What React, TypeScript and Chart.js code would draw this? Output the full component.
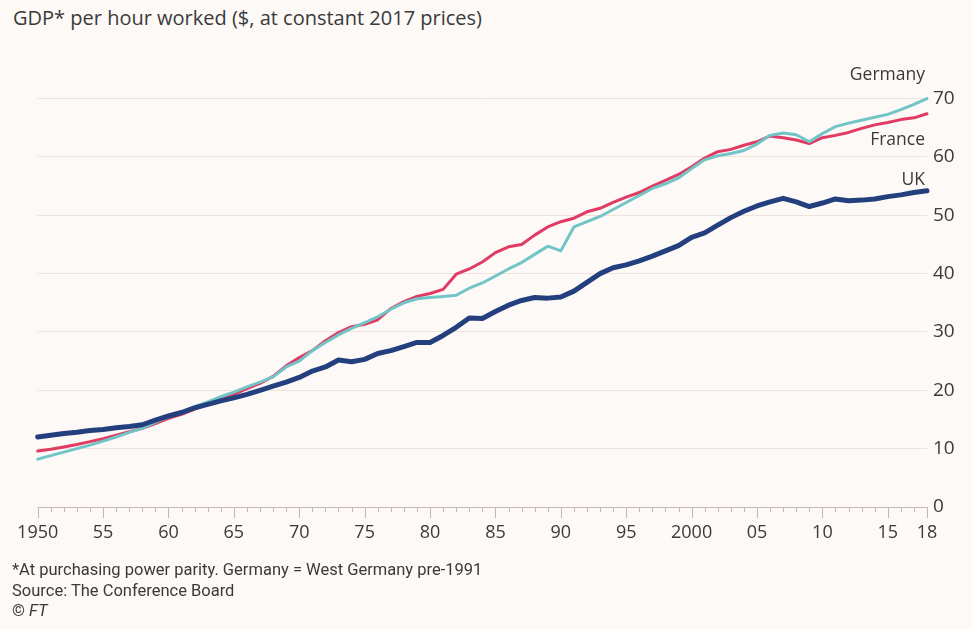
import React, { useEffect, useRef } from "react";
import { Chart, registerables } from "chart.js";

Chart.register(...registerables);

const firstYear = 1950;
const lastYear = 2018;

const ukValues = [
  12.0, 12.3, 12.6, 12.8, 13.1, 13.3, 13.6, 13.8, 14.1, 14.9,
  15.6, 16.2, 17.0, 17.6, 18.2, 18.7, 19.3, 20.0, 20.7, 21.4,
  22.2, 23.3, 24.0, 25.2, 24.9, 25.3, 26.3, 26.8, 27.5, 28.2,
  28.2, 29.4, 30.8, 32.4, 32.3, 33.5, 34.6, 35.4, 35.9, 35.8,
  36.0, 37.0, 38.5, 40.0, 41.0, 41.5, 42.2, 43.0, 43.9, 44.8,
  46.2, 47.0, 48.3, 49.6, 50.7, 51.6, 52.3, 52.9, 52.3, 51.5,
  52.1, 52.8, 52.5, 52.6, 52.8, 53.2, 53.5, 53.9, 54.2,
];

const franceValues = [
  9.6, 9.9, 10.3, 10.7, 11.2, 11.7, 12.3, 12.9, 13.5, 14.3,
  15.2, 15.9, 16.8, 17.6, 18.5, 19.3, 20.3, 21.2, 22.4, 24.2,
  25.6, 26.8, 28.5, 29.9, 30.9, 31.3, 32.1, 34.0, 35.2, 36.1,
  36.6, 37.3, 39.9, 40.8, 42.0, 43.6, 44.6, 45.0, 46.6, 48.0,
  48.9, 49.5, 50.6, 51.2, 52.2, 53.1, 53.9, 55.0, 56.0, 57.0,
  58.3, 59.8, 60.9, 61.3, 62.0, 62.6, 63.6, 63.3, 62.9, 62.3,
  63.3, 63.7, 64.2, 64.9, 65.5, 65.9, 66.4, 66.7, 67.4,
];

const germanyValues = [
  8.2, 8.8, 9.4, 10.0, 10.6, 11.3, 12.0, 12.8, 13.5, 14.5,
  15.5, 16.3, 17.2, 18.0, 18.9, 19.7, 20.6, 21.4, 22.3, 24.0,
  25.0, 26.8, 28.2, 29.5, 30.6, 31.6, 32.6, 33.9, 35.0, 35.7,
  35.9, 36.1, 36.3, 37.5, 38.4, 39.6, 40.8, 41.9, 43.3, 44.7,
  43.9, 48.0, 48.9, 49.8, 51.0, 52.2, 53.4, 54.6, 55.4, 56.4,
  58.0, 59.5, 60.2, 60.6, 61.1, 62.2, 63.7, 64.1, 63.8, 62.6,
  64.0, 65.2, 65.8, 66.3, 66.8, 67.3, 68.1, 69.0, 70.0,
];

const xTickYears = [1950, 1955, 1960, 1965, 1970, 1975, 1980, 1985, 1990, 1995, 2000, 2005, 2010, 2015, 2018];
const xTickLabels = ["1950", "55", "60", "65", "70", "75", "80", "85", "90", "95", "2000", "05", "10", "15", "18"];
const yTicks = [0, 10, 20, 30, 40, 50, 60, 70];

const seriesNames = ["UK", "Germany", "France"];
const seriesColors = ["#233f7e", "#72c5c6", "#e13a63"];
const seriesWidths = [5, 3, 3];
const labelOffsets = [-11, -24, 26];

const toPoints = (vals: number[]) => vals.map((v, i) => ({ x: firstYear + i, y: v }));

const TEXT = "#3a3a3a";
const BG = "#fcf9f7";

const axisPlugin = {
  id: "ftAxis",
  afterDatasetsDraw(chart: any) {
    const { ctx, scales } = chart;
    const xs = scales.x;
    const ys = scales.y;
    const y0 = ys.getPixelForValue(0);
    ctx.save();
    ctx.strokeStyle = "#c4b8b0";
    ctx.lineWidth = 1;
    ctx.beginPath();
    ctx.moveTo(xs.getPixelForValue(firstYear), y0 + 0.5);
    ctx.lineTo(xs.getPixelForValue(lastYear), y0 + 0.5);
    for (let yr = firstYear; yr <= lastYear; yr++) {
      const px = Math.round(xs.getPixelForValue(yr)) + 0.5;
      const major = xTickYears.includes(yr);
      ctx.moveTo(px, y0);
      ctx.lineTo(px, y0 + (major ? 11 : 5));
    }
    ctx.stroke();

    ctx.fillStyle = TEXT;
    ctx.font = "17.5px 'Open Sans'";
    ctx.textAlign = "right";
    ctx.textBaseline = "middle";
    const lastVals = [ukValues, germanyValues, franceValues].map((a) => a[a.length - 1]);
    seriesNames.forEach((name, i) => {
      const px = xs.getPixelForValue(lastYear) - 2;
      const py = ys.getPixelForValue(lastVals[i]) + labelOffsets[i];
      ctx.fillText(name, px, py);
    });
    ctx.restore();
  },
};

export default function App() {
  const canvasRef = useRef<HTMLCanvasElement | null>(null);

  useEffect(() => {
    if (!canvasRef.current) return;
    const allVals = [ukValues, germanyValues, franceValues];
    const chart = new Chart(canvasRef.current, {
      type: "line",
      data: {
        datasets: seriesNames.map((name, i) => ({
          label: name,
          data: toPoints(allVals[i]),
          borderColor: seriesColors[i],
          borderWidth: seriesWidths[i],
          pointRadius: 0,
          tension: 0,
          fill: false,
          clip: false as any,
          borderCapStyle: "round" as const,
          borderJoinStyle: "round" as const,
        })),
      },
      options: {
        animation: false,
        responsive: false,
        devicePixelRatio: 1,
        layout: { padding: { left: 37.7, right: 0, top: 98.6, bottom: 0 } },
        plugins: { legend: { display: false }, tooltip: { enabled: false }, title: { display: false } },
        scales: {
          x: {
            type: "linear",
            min: firstYear,
            max: lastYear,
            grid: { display: false, drawTicks: false, tickLength: 0 },
            border: { display: false },
            afterBuildTicks: (scale: any) => {
              scale.ticks = xTickYears.map((v) => ({ value: v }));
            },
            afterFit: (scale: any) => {
              scale.height = 629 - 507;
            },
            ticks: {
              autoSkip: false,
              maxRotation: 0,
              padding: 15,
              color: TEXT,
              font: { family: "'Open Sans'", size: 18 },
              callback: (v: any) => {
                const idx = xTickYears.indexOf(Number(v));
                return idx >= 0 ? xTickLabels[idx] : "";
              },
            },
          },
          y: {
            position: "right",
            min: 0,
            max: 70,
            afterBuildTicks: (scale: any) => {
              scale.ticks = yTicks.map((v) => ({ value: v }));
            },
            afterFit: (scale: any) => {
              scale.width = 45;
            },
            grid: { color: "#eee2da", lineWidth: 1, drawTicks: false, tickLength: 0 },
            border: { display: false },
            ticks: {
              padding: 6,
              color: TEXT,
              font: { family: "'Open Sans'", size: 19 },
              callback: (v: any) => String(v),
            },
          },
        },
      },
      plugins: [axisPlugin],
    });
    return () => chart.destroy();
  }, []);

  return (
    <div
      style={{
        position: "fixed",
        left: 0,
        top: 0,
        width: 972,
        height: 629,
        background: BG,
        overflow: "hidden",
      }}
    >
      <div
        style={{
          position: "absolute",
          left: 13,
          top: 4,
          fontFamily: "'Open Sans'",
          fontSize: 20,
          color: TEXT,
          whiteSpace: "nowrap",
          lineHeight: "28px",
        }}
      >
        GDP* per hour worked ($, at constant 2017 prices)
      </div>
      <canvas
        ref={canvasRef}
        width={972}
        height={629}
        style={{ position: "absolute", left: 0, top: 0, width: 972, height: 629 }}
      />
      <div
        style={{
          position: "absolute",
          left: 12,
          top: 560,
          fontFamily: "Roboto",
          fontSize: 16.5,
          color: TEXT,
          lineHeight: "20.5px",
          whiteSpace: "nowrap",
        }}
      >
        <div>*At purchasing power parity. Germany = West Germany pre-1991</div>
        <div>Source: The Conference Board</div>
        <div>
          © <i>FT</i>
        </div>
      </div>
    </div>
  );
}
